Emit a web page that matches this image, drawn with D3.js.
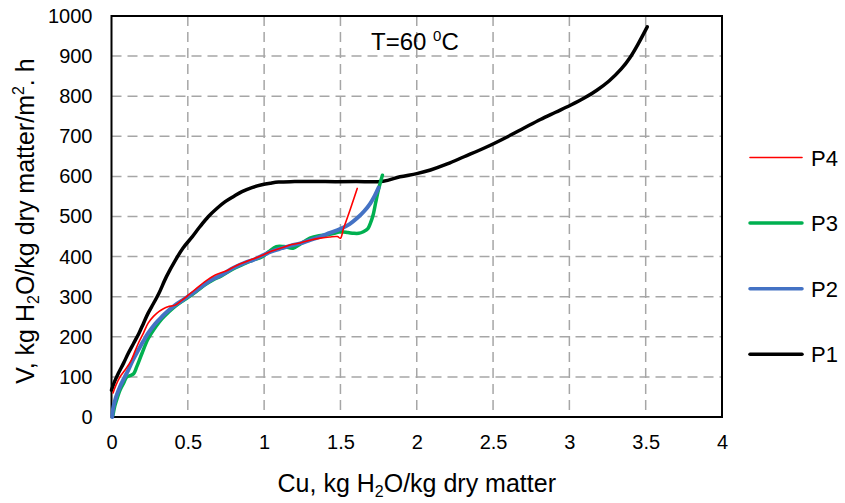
<!DOCTYPE html>
<html>
<head>
<meta charset="utf-8">
<script src="https://cdn.jsdelivr.net/npm/d3@7"></script>
<style>
  html, body { margin: 0; padding: 0; background: #fff; }
  svg { display: block; font-family: "Liberation Sans", Arial, sans-serif; }
</style>
</head>
<body>
<svg id="chart" width="845" height="503"></svg>
<script>
// ---- data ----
const xTicks = [0, 0.5, 1, 1.5, 2, 2.5, 3, 3.5, 4];
const yTicks = [0, 100, 200, 300, 400, 500, 600, 700, 800, 900, 1000];

const cuP1 = [0, 0.02, 0.045, 0.08, 0.11, 0.145, 0.18, 0.21, 0.24, 0.275, 0.31, 0.36, 0.42, 0.47, 0.53, 0.58, 0.635, 0.69, 0.745, 0.80, 0.855, 0.92, 0.985, 1.04, 1.095, 1.2, 1.4, 1.6, 1.78, 1.89, 2.0, 2.09, 2.2, 2.31, 2.45, 2.595, 2.7, 2.81, 2.91, 3.01, 3.1, 3.18, 3.26, 3.34, 3.40, 3.45, 3.51];
const vP1  = [67, 88, 109, 135, 159, 184, 209, 234, 259, 283, 308, 350, 392, 422, 450, 475, 500, 520, 537, 550, 562, 572, 579, 583, 586, 587, 587, 587, 588, 599, 607, 616, 631, 649, 672, 699, 720, 742, 760, 778, 796, 815, 838, 868, 898, 930, 973];

const cuP2 = [0.005, 0.01, 0.03, 0.056, 0.08, 0.11, 0.14, 0.176, 0.21, 0.24, 0.285, 0.33, 0.375, 0.417, 0.46, 0.50, 0.555, 0.61, 0.665, 0.72, 0.80, 0.876, 0.93, 0.985, 1.05, 1.117, 1.18, 1.237, 1.30, 1.368, 1.43, 1.5, 1.56, 1.61, 1.655, 1.696, 1.725, 1.75];
const vP2  = [0, 20, 50, 76, 95, 117, 142, 167, 190, 209, 232, 250, 266, 279, 290, 300, 315, 331, 344, 354, 372, 385, 392, 402, 413, 421, 428, 433, 441, 450, 459, 469, 481, 496, 513, 533, 552, 572];

const cuP3 = [0.01, 0.02, 0.04, 0.056, 0.08, 0.10, 0.12, 0.145, 0.165, 0.2, 0.24, 0.29, 0.33, 0.375, 0.417, 0.46, 0.5, 0.555, 0.61, 0.665, 0.72, 0.80, 0.876, 0.93, 0.985, 1.03, 1.08, 1.13, 1.19, 1.24, 1.30, 1.36, 1.41, 1.46, 1.5, 1.55, 1.587, 1.62, 1.65, 1.68, 1.696, 1.715, 1.73, 1.745, 1.76, 1.775];
const vP3  = [5, 25, 50, 67, 85, 100, 103, 108, 125, 159, 195, 225, 245, 262, 276, 288, 298, 313, 329, 342, 352, 370, 383, 392, 399, 412, 425, 425, 421, 432, 446, 452, 454, 458, 462, 460, 458, 458, 462, 470, 483, 505, 533, 560, 583, 603];

const cuP4 = [0.01, 0.03, 0.056, 0.09, 0.13, 0.155, 0.176, 0.21, 0.24, 0.275, 0.31, 0.34, 0.37, 0.417, 0.46, 0.5, 0.555, 0.61, 0.68, 0.75, 0.82, 0.9, 0.985, 1.05, 1.117, 1.18, 1.237, 1.30, 1.368, 1.43, 1.48, 1.5, 1.52, 1.54, 1.575, 1.61];
const vP4  = [60, 80, 100, 118, 142, 165, 184, 210, 234, 251, 263, 270, 275, 279, 291, 303, 320, 337, 354, 364, 378, 390, 403, 414, 422, 430, 434, 441, 446, 449, 450, 446, 470, 491, 530, 570];

const seriesNames = ["P4", "P3", "P2", "P1"];
const seriesColors = ["#FF0000", "#00B050", "#4472C4", "#000000"];

// ---- layout ----
const svg = d3.select("#chart");
const pL = 111.5, pR = 722, pT = 16, pB = 417;
const x = d3.scaleLinear().domain([0, 4]).range([pL, pR]);
const y = d3.scaleLinear().domain([0, 1000]).range([pB, pT]);

// grid
const grid = svg.append("g");
grid.selectAll("line.vg").data(xTicks.filter(d => d > 0 && d < 4)).enter().append("line")
  .attr("x1", d => x(d)).attr("x2", d => x(d)).attr("y1", pT).attr("y2", pB)
  .attr("stroke", "#A6A6A6").attr("stroke-width", 1.5).attr("stroke-dasharray", "10,6");
grid.selectAll("line.hg").data(yTicks.filter(d => d > 0 && d < 1000)).enter().append("line")
  .attr("x1", pL).attr("x2", pR).attr("y1", d => y(d)).attr("y2", d => y(d))
  .attr("stroke", "#A6A6A6").attr("stroke-width", 1.5).attr("stroke-dasharray", "10,6");

// frame
svg.append("rect").attr("x", pL).attr("y", pT).attr("width", pR - pL).attr("height", pB - pT)
  .attr("fill", "none").attr("stroke", "#000").attr("stroke-width", 2);

// axes (labels only)
const xAxis = d3.axisBottom(x).tickValues(xTicks).tickSize(0).tickPadding(18).tickFormat(d3.format("~g"));
const gx = svg.append("g").attr("transform", `translate(0,${pB})`).call(xAxis);
gx.select(".domain").remove();
gx.selectAll("text").attr("font-size", 20).attr("fill", "#000").attr("font-family", "Liberation Sans, Arial, sans-serif");

const yAxis = d3.axisLeft(y).tickValues(yTicks).tickSize(0).tickPadding(19).tickFormat(d3.format("d"));
const gy = svg.append("g").attr("transform", `translate(${pL},0)`).call(yAxis);
gy.select(".domain").remove();
gy.selectAll("text").attr("font-size", 20).attr("fill", "#000").attr("font-family", "Liberation Sans, Arial, sans-serif");

// lines
const line = d3.line().x(d => x(d[0])).y(d => y(d[1])).curve(d3.curveCatmullRom.alpha(0.5));
const series = [
  {name: "P1", cu: cuP1, v: vP1, color: "#000000", w: 3.5},
  {name: "P3", cu: cuP3, v: vP3, color: "#00B050", w: 3.5},
  {name: "P2", cu: cuP2, v: vP2, color: "#4472C4", w: 4},
  {name: "P4", cu: cuP4, v: vP4, color: "#FF0000", w: 1.6}
];
series.forEach(s => {
  svg.append("path").datum(s.cu.map((c, i) => [c, s.v[i]]))
    .attr("d", line).attr("fill", "none").attr("stroke", s.color)
    .attr("stroke-width", s.w).attr("stroke-linejoin", "round").attr("stroke-linecap", "round");
});

// legend
const legW = {P4: 1.6, P3: 3.5, P2: 3.5, P1: 3.5};
const leg = svg.append("g");
seriesNames.forEach((n, i) => {
  const yy = 157.5 + i * 65.6;
  leg.append("line").attr("x1", 750).attr("x2", 802).attr("y1", yy).attr("y2", yy)
    .attr("stroke", seriesColors[i]).attr("stroke-width", legW[n]).attr("stroke-linecap", "round");
  leg.append("text").attr("x", 811).attr("y", yy + 8).attr("font-size", 22).attr("fill", "#000").text(n);
});

// title annotation
const t = svg.append("text").attr("x", 371).attr("y", 50).attr("font-size", 24).attr("fill", "#000");
t.append("tspan").text("T=60 ");
t.append("tspan").attr("font-size", 15).attr("dy", -9).text("0");
t.append("tspan").attr("dy", 9).text("C");

// x title
const xt = svg.append("text").attr("x", (pL + pR) / 2).attr("y", 492).attr("text-anchor", "middle")
  .attr("font-size", 25).attr("fill", "#000");
xt.append("tspan").text("Cu, kg H");
xt.append("tspan").attr("font-size", 16).attr("dy", 5).text("2");
xt.append("tspan").attr("dy", -5).text("O/kg dry matter");

// y title
const yt = svg.append("text").attr("transform", "translate(34,221) rotate(-90)").attr("text-anchor", "middle")
  .attr("font-size", 25).attr("fill", "#000");
yt.append("tspan").text("V, kg H");
yt.append("tspan").attr("font-size", 16).attr("dy", 5).text("2");
yt.append("tspan").attr("dy", -5).text("O/kg dry matter/m");
yt.append("tspan").attr("font-size", 16).attr("dy", -10).text("2");
yt.append("tspan").attr("dy", 10).text(". h");
</script>
</body>
</html>
